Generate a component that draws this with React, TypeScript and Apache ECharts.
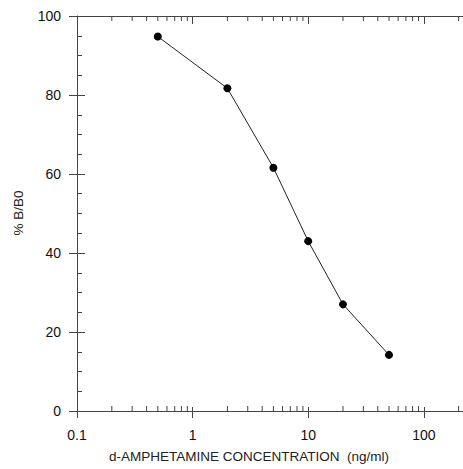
import React, { useEffect, useRef } from "react";
import * as echarts from "echarts";

const concentrations = [0.5, 2, 5, 10, 20, 50];
const percentBB0 = [94.8, 81.7, 61.6, 43.0, 27.0, 14.2];
const xMin = 0.1;
const xMax = 1000;
const xLabelled = [0.1, 1, 10, 100];
const yTicks = [0, 20, 40, 60, 80, 100];
const xDecades = [0.1, 1, 10, 100];
const minorMultipliers = [2, 3, 4, 5, 6, 7, 8, 9];
const xTitle = "d-AMPHETAMINE CONCENTRATION  (ng/ml)";
const yTitle = "% B/B0";

const FONT = "'Liberation Sans', Arial, Helvetica, sans-serif";
const AXIS = "#444";

export default function App() {
  const ref = useRef<HTMLDivElement>(null);
  useEffect(() => {
    if (!ref.current) return;
    const chart = echarts.init(ref.current, undefined, { renderer: "svg" });
    const xMinorTicks: number[] = [];
    xDecades.forEach((d) => minorMultipliers.forEach((m) => xMinorTicks.push(parseFloat((d * m).toPrecision(6)))));
    const fmt = (v: number) => {
      const n = parseFloat(Number(v).toPrecision(6));
      return xLabelled.some((l) => Math.abs(l - n) < 1e-9) ? String(n) : "";
    };
    const yMin = yTicks[0];
    const yMax = yTicks[yTicks.length - 1];
    const common = {
      type: "log" as const,
      logBase: 10,
      min: xMin,
      max: xMax,
      splitLine: { show: false },
    };
    chart.setOption({
      animation: false,
      grid: { left: 77, top: 16, width: 462.4, height: 395, containLabel: false },
      xAxis: [
        {
          ...common,
          position: "bottom",
          axisLine: { show: true, lineStyle: { color: AXIS, width: 1 } },
          axisTick: { show: true, inside: false, length: 7, lineStyle: { color: AXIS } },
          axisLabel: { show: true, margin: 17, fontSize: 14, color: "#111", fontFamily: FONT, formatter: fmt },
        },
        {
          ...common,
          position: "bottom",
          offset: 0,
          axisLine: { show: false },
          axisTick: { show: true, inside: true, length: 4, lineStyle: { color: AXIS } },
          axisLabel: { show: false },
        },
        {
          ...common,
          position: "top",
          axisLine: { show: true, lineStyle: { color: AXIS, width: 1 } },
          axisTick: { show: true, inside: true, length: 8, lineStyle: { color: AXIS } },
          axisLabel: { show: false },
        },
      ],
      yAxis: [
        {
          type: "value",
          min: yMin,
          max: yMax,
          interval: 20,
          position: "left",
          splitLine: { show: false },
          axisLine: { show: true, lineStyle: { color: AXIS, width: 1 } },
          axisTick: { show: true, inside: false, length: 8, lineStyle: { color: AXIS } },
          axisLabel: { show: true, margin: 16, fontSize: 14, color: "#111", fontFamily: FONT },
        },
        {
          type: "value",
          min: yMin,
          max: yMax,
          interval: 20,
          position: "left",
          offset: 0,
          splitLine: { show: false },
          axisLine: { show: false },
          axisTick: { show: true, inside: true, length: 8, lineStyle: { color: AXIS } },
          minorTick: { show: true, splitNumber: 4, length: 5, lineStyle: { color: AXIS } },
          axisLabel: { show: false },
        },
      ],
      graphic: [
        {
          type: "text",
          x: 249,
          y: 456,
          style: {
            text: xTitle,
            align: "center",
            verticalAlign: "middle",
            fontSize: 13.5,
            fontFamily: FONT,
            fill: "#222",
          },
        },
        {
          type: "text",
          x: 18,
          y: 213,
          rotation: Math.PI / 2,
          style: {
            text: yTitle,
            align: "center",
            verticalAlign: "middle",
            fontSize: 13.5,
            fontFamily: FONT,
            fill: "#222",
          },
        },
      ],
      series: [
        {
          type: "custom",
          xAxisIndex: 0,
          yAxisIndex: 0,
          silent: true,
          z: 1,
          data: xMinorTicks.map((v) => [v, yMin]),
          renderItem: (params: any, api: any) => {
            const v = api.value(0);
            const b = api.coord([v, yMin]);
            const t = api.coord([v, yMax]);
            return {
              type: "group",
              children: [
                { type: "line", shape: { x1: b[0], y1: b[1], x2: b[0], y2: b[1] - 5 }, style: { stroke: AXIS, lineWidth: 1 } },
                { type: "line", shape: { x1: t[0], y1: t[1], x2: t[0], y2: t[1] + 5 }, style: { stroke: AXIS, lineWidth: 1 } },
              ],
            };
          },
        },
        {
          type: "line",
          xAxisIndex: 0,
          yAxisIndex: 0,
          z: 3,
          data: concentrations.map((x, i) => [x, percentBB0[i]]),
          symbol: "circle",
          symbolSize: 8,
          itemStyle: { color: "#000" },
          lineStyle: { color: "#222", width: 1 },
        },
      ],
    });
    return () => chart.dispose();
  }, []);
  return (
    <div style={{ position: "fixed", left: 0, top: 0, width: 463, height: 469, overflow: "hidden", background: "#fff" }}>
      <div ref={ref} style={{ width: 560, height: 469 }} />
    </div>
  );
}
